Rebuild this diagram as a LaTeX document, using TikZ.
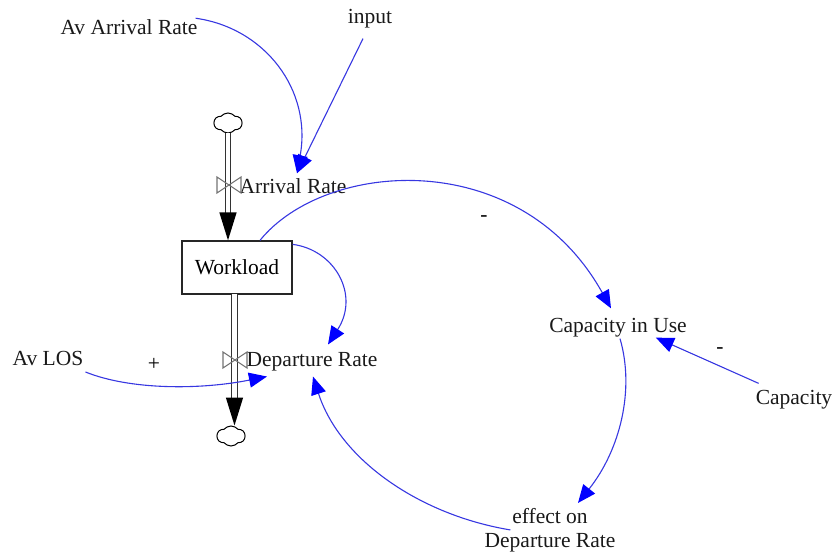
\documentclass[tikz,border=0pt]{standalone}
\usepackage{fontspec}
\setmainfont{Liberation Serif}
\usetikzlibrary{arrows.meta,shapes.symbols}
\definecolor{linkblue}{RGB}{55,55,225}
\tikzset{
  x=1pt,y=-1pt,
  lbl/.style={inner sep=0pt,font=\fontsize{21.5}{24}\selectfont,text=black!90,align=center},
  sign/.style={inner sep=0pt,font=\fontsize{21.5}{24}\selectfont},
  stockbox/.style={draw=black!85,line width=1.3pt,minimum width=110pt,minimum height=53pt,inner sep=0pt,font=\fontsize{21.5}{24}\selectfont},
  link/.style={draw=linkblue,line width=1.1pt,-{Triangle[length=18pt,width=15pt,color=blue]}},
  flowline/.style={draw=black!80,line width=1.4pt,double=white,double distance=3.4pt,-{Triangle[length=28pt,width=17pt,color=black]}},
  flowlinewide/.style={flowline,double distance=4.2pt},
  source/.style={cloud,cloud puffs=6,cloud puff arc=100,aspect=1.4,draw=black,line width=1pt,minimum width=28pt,minimum height=20pt,inner sep=0pt,fill=white},
  valve/.style={draw=black!55,line width=1.1pt},
}
\begin{document}
\begin{tikzpicture}
\useasboundingbox (0,0) rectangle (837,553);
\node[lbl] (avarr) at (129,27) {Av Arrival Rate};
\node[lbl] (input) at (370,19) {input};
\node[lbl] (arr) at (293,186) {Arrival Rate};
\node[stockbox] (wl) at (237,267.5) {Workload};
\node[lbl] (dep) at (312,362) {Departure Rate};
\node[lbl] (ciu) at (618,328) {Capacity in Use};
\node[lbl] (los) at (48,358) {Av LOS};
\node[lbl] (cap) at (794,400) {Capacity};
\node[lbl] (eff) at (550,530) {effect on\\Departure Rate};
\node[sign] (plus) at (154,364) {+};
\node[sign] (m1) at (484,219) {-};
\node[sign] (m2) at (720,351) {-};
\node[source] (c1) at (228,123) {};
\node[source] (c2) at (231,436) {};
\coordinate (wlin) at (wl.north -| c1.south);
\coordinate (wlout) at (234.5,294);
\path[flowline] (c1.south) -- (wlin);
\path[flowlinewide] (wlout) -- (wlout |- c2.north);
\coordinate (v1) at (229,185);
\coordinate (v2) at (235,360);
\draw[valve] (v1) -- ++(-12,-8) -- ++(0,16) -- ++(24,-16) -- ++(0,16) -- cycle;
\draw[valve] (v2) -- ++(-12,-8) -- ++(0,16) -- ++(24,-16) -- ++(0,16) -- cycle;
\path[link] ([shift={(-2,-1)}]avarr.north east) .. controls (265,28) and (312,90) .. ([shift={(4,-5)}]arr.north);
\path[link] ([shift={(-7,10)}]input.south) -- ([shift={(4,-5)}]arr.north);
\path[link] ([shift={(23,0)}]wl.north) .. controls (325,160) and (520,145) .. ([shift={(-7,-10)}]ciu.north);
\path[link] ([shift={(0,4)}]wl.north east) .. controls (335,250) and (360,295) .. ([shift={(16,-8)}]dep.north);
\path[link] ([shift={(2,14)}]los.east) .. controls (130,390) and (200,390) .. ([shift={(-45,5)}]dep.south);
\path[link] ([shift={(2,1)}]ciu.south) .. controls (635,390) and (620,450) .. ([shift={(28,-5)}]eff.north);
\path[link] ([shift={(26,22)}]eff.north west) .. controls (420,515) and (340,460) .. ([shift={(1,5)}]dep.south);
\path[link] ([shift={(3,-7)}]cap.north west) -- ([shift={(-31,0)}]ciu.south east);
\end{tikzpicture}
\end{document}
